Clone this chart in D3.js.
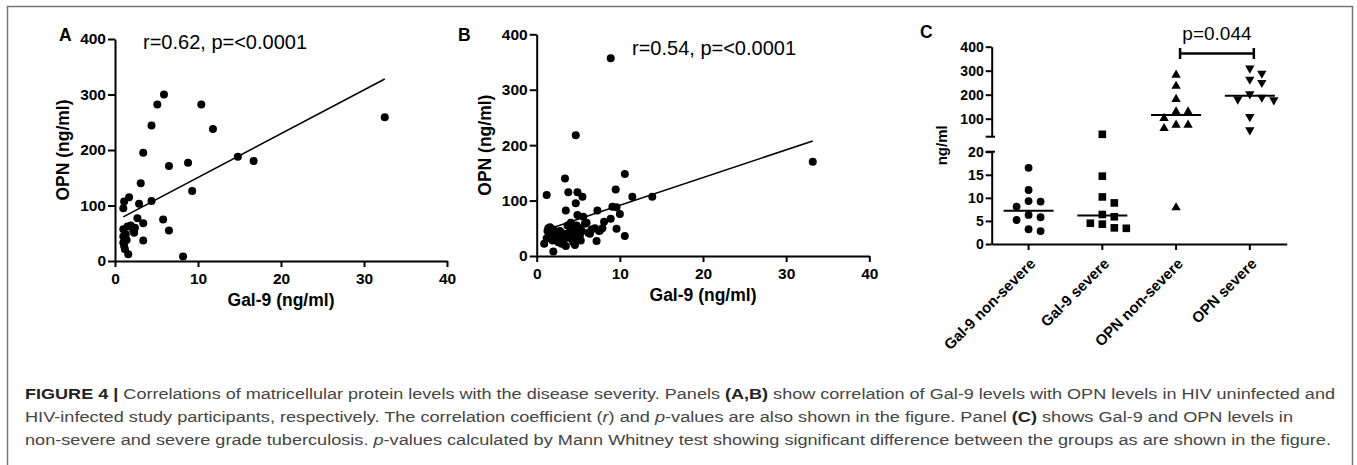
<!DOCTYPE html>
<html>
<head>
<meta charset="utf-8">
<script src="https://cdn.jsdelivr.net/npm/d3@7"></script>
<style>
  body { margin: 0; background: #fff; }
  svg { display: block; font-family: "Liberation Sans", Arial, sans-serif; }
  .axis path, .axis line { stroke: #000; stroke-width: 2; }
  .axis text { font-weight: bold; fill: #000; }
</style>
</head>
<body>
<svg id="fig" width="1357" height="465"></svg>
<script>
// panel A: HIV uninfected, Gal-9 vs OPN (ng/ml)
const gal9A = [32.5, 5.9, 5.1, 10.4, 4.4, 11.8, 3.4, 14.8, 16.7, 8.8, 6.5, 3.1, 9.3, 1.7, 1.1, 1.0, 2.9, 4.4,
  2.7, 3.4, 5.8, 6.5, 3.4, 8.2, 1.0, 1.9, 2.2, 2.3, 1.0, 1.0, 1.4, 1.2, 1.6, 1.5, 1.1, 2.4, 1.3];
const opnA = [259, 300, 282, 282, 244, 238, 195, 188, 180, 177, 171, 140, 126, 115, 107, 95, 103, 108,
  77, 68, 75, 55, 37, 8, 57, 64, 56, 51, 44, 33, 38, 21, 12, 62, 27, 60, 48];
const fitA = { slope: 7.88, intercept: 71.7 };

// panel B: HIV infected
const gal9B = [8.9, 4.7, 33.2, 10.6, 3.4, 1.2, 3.8, 4.9, 5.5, 9.5, 11.5, 13.9, 4.7, 3.5, 9.1, 9.6, 10.0, 7.3,
  4.9, 5.6, 8.1, 8.9, 9.6, 10.6, 7.2, 2.0, 0.9, 1.4, 1.3, 1.5, 1.8, 2.2, 2.5, 3.0, 3.2, 3.6, 3.9, 4.2, 4.5,
  4.8, 5.1, 5.4, 4.4, 4.6, 3.8, 2.8, 2.4, 1.9, 1.2, 2.6, 3.3, 4.0, 5.2, 5.8, 6.2, 6.6, 7.0, 7.6, 7.9, 5.0,
  4.3, 3.5, 2.0, 1.6, 6.0, 4.1, 3.7, 5.3, 2.9, 4.7, 6.4, 7.5];
const opnB = [357, 218, 170, 148, 140, 110, 115, 115, 107, 120, 107, 107, 95, 82, 89, 88, 76, 82,
  74, 71, 62, 67, 49, 36, 27, 8, 22, 50, 45, 40, 35, 38, 30, 22, 28, 35, 42, 48, 52,
  55, 50, 45, 25, 20, 33, 45, 42, 28, 32, 25, 40, 38, 38, 58, 42, 48, 50, 46, 50, 32,
  30, 18, 48, 52, 60, 60, 55, 28, 33, 42, 40, 45];
const fitB = { slope: 5.0, intercept: 41.5 };

// panel C: non-severe vs severe TB
const groupsC = ["Gal-9 non-severe", "Gal-9 severe", "OPN non-severe", "OPN severe"];
const gal9NonSevere = [16.5, 11.7, 9.2, 9.3, 8.1, 6.3, 5.2, 5.8, 2.8, 3.2];
const gal9Severe = [35, 14.7, 10.2, 8.9, 6.4, 5.9, 4.3, 4.5, 3.4, 3.5];
const opnNonSevere = [282, 236, 181, 129, 129, 102, 74, 60, 74, 7.9];
const opnSevere = [310, 289, 264, 250, 189, 178, 203, 181, 108, 53];
const pC = "p=0.044";

const xTicksAB = [0, 10, 20, 30, 40];
const yTicksAB = [0, 100, 200, 300, 400];
const yTicksUpper = [100, 200, 300, 400];
const yTicksLower = [0, 5, 10, 15, 20];

const svg = d3.select("#fig");

// frame round the figure
svg.append("path")
    .attr("d", "M7.5,465V6.5H1352.5V465")
    .attr("fill", "none").attr("stroke", "#777").attr("stroke-width", 1.5);

function scatter(xs, ys, fit, o) {
    const x = d3.scaleLinear().domain([0, 40]).range(o.xr);
    const y = d3.scaleLinear().domain([0, 400]).range(o.yr);
    const g = svg.append("g");

    g.append("g").attr("class", "axis")
        .attr("transform", `translate(0,${o.yr[0]})`)
        .call(d3.axisBottom(x).tickValues(xTicksAB).tickSize(6).tickSizeOuter(0).tickPadding(6))
        .selectAll("text").style("font-size", "15.5px");
    g.append("g").attr("class", "axis")
        .attr("transform", `translate(${o.xr[0]},0)`)
        .call(d3.axisLeft(y).tickValues(yTicksAB).tickSize(7).tickSizeOuter(0).tickPadding(2))
        .selectAll("text").style("font-size", "15.5px");

    g.selectAll("circle").data(xs).join("circle")
        .attr("cx", d => x(d))
        .attr("cy", (d, i) => y(ys[i]))
        .attr("r", 4).attr("fill", "#000");

    const x0 = d3.min(xs), x1 = d3.max(xs);
    g.append("line")
        .attr("x1", x(x0)).attr("y1", y(fit.intercept + fit.slope * x0))
        .attr("x2", x(x1)).attr("y2", y(fit.intercept + fit.slope * x1))
        .attr("stroke", "#000").attr("stroke-width", 1.6);

    g.append("text").text("Gal-9 (ng/ml)")
        .attr("x", (o.xr[0] + o.xr[1]) / 2).attr("y", o.yr[0] + 45)
        .attr("text-anchor", "middle").style("font-weight", "bold").style("font-size", "17.5px");
    g.append("text").text("OPN (ng/ml)")
        .attr("transform", `translate(${o.yTitleX},${(o.yr[0] + o.yr[1]) / 2}) rotate(-90)`)
        .attr("text-anchor", "middle").style("font-weight", "bold").style("font-size", "17.5px");
    g.append("text").text(o.note)
        .attr("x", o.noteX).attr("y", o.noteY).style("font-size", "20px");
    g.append("text").text(o.label)
        .attr("x", o.labelX).attr("y", 41).style("font-weight", "bold").style("font-size", "17.5px");
}

scatter(gal9A, opnA, fitA, { xr: [115, 447], yr: [261, 39], yTitleX: 69, note: "r=0.62, p=<0.0001",
    noteX: 143, noteY: 49, label: "A", labelX: 59 });
scatter(gal9B, opnB, fitB, { xr: [536.7, 869.3], yr: [256, 34.3], yTitleX: 491, note: "r=0.54, p=<0.0001",
    noteX: 632, noteY: 55, label: "B", labelX: 458 });

// ---- panel C ----
const xC = d3.scaleBand().domain(groupsC).range([991.7, 1286.7]);
const yUp = d3.scaleLinear().domain([25, 400]).range([136.7, 46.7]);
const yLow = d3.scaleLinear().domain([0, 20]).range([244, 151.7]);
const yC = v => v >= 25 ? yUp(v) : yLow(v);
const cx = k => xC(k) + xC.bandwidth() / 2;

const gC = svg.append("g");
gC.append("g").attr("class", "axis")
    .attr("transform", "translate(991.7,0)")
    .call(d3.axisLeft(yUp).tickValues(yTicksUpper).tickSize(6).tickSizeOuter(0).tickPadding(2))
    .selectAll("text").style("font-size", "14px");
gC.append("g").attr("class", "axis")
    .attr("transform", "translate(991.7,0)")
    .call(d3.axisLeft(yLow).tickValues(yTicksLower).tickSize(6).tickSizeOuter(0).tickPadding(2))
    .selectAll("text").style("font-size", "14px");
// break marks on the y axis
gC.selectAll("line.brk").data([yUp(25), yLow(20)]).join("line").attr("class", "brk")
    .attr("x1", 985.7).attr("x2", 995).attr("y1", d => d).attr("y2", d => d)
    .attr("stroke", "#000").attr("stroke-width", 2);

const xAxC = gC.append("g").attr("class", "axis")
    .attr("transform", "translate(0,244)")
    .call(d3.axisBottom(xC).tickSize(6).tickSizeOuter(0));
xAxC.selectAll("text")
    .attr("x", 0).attr("y", 0).attr("dy", "0.35em")
    .attr("text-anchor", "end")
    .attr("transform", "translate(4,17) rotate(-45)")
    .style("font-size", "15px");

gC.append("text").text("ng/ml")
    .attr("transform", `translate(947,${(46.7 + 244) / 2}) rotate(-90)`)
    .attr("text-anchor", "middle").style("font-weight", "bold").style("font-size", "15px");
gC.append("text").text("C").attr("x", 920).attr("y", 38)
    .style("font-weight", "bold").style("font-size", "17.5px");

function swarm(vals, step, minDist) {
    const order = vals.map((v, i) => i).sort((a, b) => vals[b] - vals[a]);
    const off = new Array(vals.length);
    const placed = [];
    for (const i of order) {
        const yy = yC(vals[i]);
        for (const k of [0, 1, -1, 2, -2, 3, -3]) {
            const xx = k * step;
            if (placed.every(p => Math.hypot(p.x - xx, p.y - yy) >= minDist)) {
                off[i] = xx; placed.push({ x: xx, y: yy }); break;
            }
        }
    }
    return off;
}

const seriesC = [
    { key: groupsC[0], vals: gal9NonSevere, sym: d3.symbol(d3.symbolCircle, 48)(), rot: 0 },
    { key: groupsC[1], vals: gal9Severe, sym: d3.symbol(d3.symbolSquare, 58)(), rot: 0 },
    { key: groupsC[2], vals: opnNonSevere, sym: d3.symbol(d3.symbolTriangle, 38)(), rot: 0 },
    { key: groupsC[3], vals: opnSevere, sym: d3.symbol(d3.symbolTriangle, 38)(), rot: 180 }
];

seriesC.forEach(s => {
    const off = swarm(s.vals, 12, 9);
    gC.append("g").selectAll("path").data(s.vals).join("path")
        .attr("d", s.sym)
        .attr("transform", (d, i) => `translate(${cx(s.key) + off[i]},${yC(d)}) rotate(${s.rot})`)
        .attr("fill", "#000");
    const m = d3.median(s.vals);
    gC.append("line")
        .attr("x1", cx(s.key) - 25).attr("x2", cx(s.key) + 25)
        .attr("y1", yC(m)).attr("y2", yC(m))
        .attr("stroke", "#000").attr("stroke-width", 2);
});

// significance bracket
const bx0 = cx(groupsC[2]) + 4, bx1 = cx(groupsC[3]) + 4;
gC.append("path")
    .attr("d", `M${bx0},48V59M${bx0},53.5H${bx1}M${bx1},48V59`)
    .attr("fill", "none").attr("stroke", "#000").attr("stroke-width", 2.5);
gC.append("text").text(pC).attr("x", (bx0 + bx1) / 2).attr("y", 40)
    .attr("text-anchor", "middle").style("font-size", "19px");

// caption
const caption = [
    { w: 1310, parts: [["FIGURE 4 |", "b"], [" Correlations of matricellular protein levels with the disease severity. Panels ", ""],
        ["(A,B)", "b"], [" show correlation of Gal-9 levels with OPN levels in HIV uninfected and", ""]] },
    { w: 1268, parts: [["HIV-infected study participants, respectively. The correlation coefficient (", ""], ["r", "i"],
        [") and ", ""], ["p", "i"], ["-values are also shown in the figure. Panel ", ""], ["(C)", "b"],
        [" shows Gal-9 and OPN levels in", ""]] },
    { w: 1306, parts: [["non-severe and severe grade tuberculosis. ", ""], ["p", "i"],
        ["-values calculated by Mann Whitney test showing significant difference between the groups as are shown in the figure.", ""]] }
];
const cap = svg.append("g").style("font-size", "15.5px")
    .style("font-family", "'Liberation Sans Narrow', 'Liberation Sans', Arial, sans-serif");
caption.forEach((ln, i) => {
    const t = cap.append("text").attr("x", 25).attr("y", 399 + i * 23)
        .attr("textLength", ln.w).attr("lengthAdjust", "spacingAndGlyphs").attr("fill", "#444");
    ln.parts.forEach(p => {
        t.append("tspan").text(p[0])
            .style("font-weight", p[1] === "b" ? "bold" : "normal")
            .style("font-style", p[1] === "i" ? "italic" : "normal")
            .attr("fill", p[1] === "b" ? "#222" : "#444");
    });
});
</script>
</body>
</html>
